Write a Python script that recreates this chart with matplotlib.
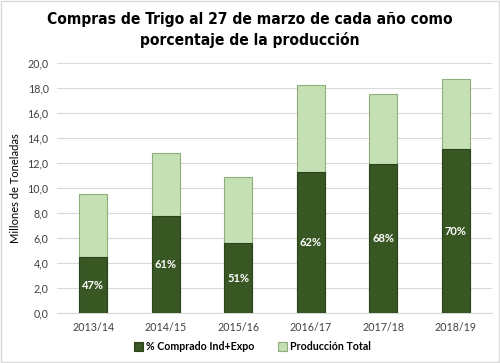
import matplotlib.pyplot as plt
from matplotlib.patches import Rectangle

# Data
campaigns = ["2013/14", "2014/15", "2015/16", "2016/17", "2017/18", "2018/19"]
produccion_total = [9.5, 12.8, 10.9, 18.2, 17.5, 18.7]
comprado = [4.5, 7.8, 5.6, 11.3, 11.9, 13.1]
pct_labels = ["47%", "61%", "51%", "62%", "68%", "70%"]

dark_green = "#385723"
light_green = "#c5e0b4"
light_edge = "#8fae7c"

fig = plt.figure(figsize=(5, 3.63), dpi=100)
ax = fig.add_axes([0.114, 0.137, 0.87, 0.69])

x = range(len(campaigns))
width = 0.39
ax.bar(x, produccion_total, width=width, color=light_green, edgecolor=light_edge,
       linewidth=0.8, label="Producción Total", zorder=2)
ax.bar(x, comprado, width=width, color=dark_green, edgecolor="#2b431b",
       linewidth=0.8, label="% Comprado Ind+Expo", zorder=3)

for i, (v, lab) in enumerate(zip(comprado, pct_labels)):
    ax.text(i, v / 2, lab, ha="center", va="center", color="white",
            fontsize=8, fontweight="bold", family="Lato", zorder=4)

ax.set_ylim(0, 20)
ax.set_xlim(-0.5, len(campaigns) - 0.5)
ax.set_yticks([i * 2 for i in range(11)])
ax.set_yticklabels([f"{i * 2:.1f}".replace(".", ",") for i in range(11)])
ax.set_xticks(list(x))
ax.set_xticklabels(campaigns)
ax.tick_params(length=0, labelsize=7.7, colors="#404040", pad=6)
for lbl in ax.get_xticklabels() + ax.get_yticklabels():
    lbl.set_family("Lato")
ax.yaxis.grid(True, color="#d9d9d9", linewidth=0.8, zorder=0)
ax.set_axisbelow(True)
for s in ["top", "right", "left"]:
    ax.spines[s].set_visible(False)
ax.spines["bottom"].set_color("#d9d9d9")

ax.set_ylabel("Millones de Toneladas", fontsize=8, family="Lato", color="black", labelpad=5)

fig.text(0.5, 0.968, "Compras de Trigo al 27 de marzo de cada año como\nporcentaje de la producción",
         ha="center", va="top", fontsize=11.2, fontweight="bold",
         family="DejaVu Sans", fontstretch="condensed", linespacing=1.45)

handles, labels = ax.get_legend_handles_labels()
leg = fig.legend(handles[::-1], labels[::-1], loc="center", bbox_to_anchor=(0.505, 0.045),
                 ncol=2, frameon=False, prop={"family": "Lato", "weight": "bold", "size": 7.7},
                 handlelength=0.8, handleheight=0.8, columnspacing=2.2, handletextpad=0.3)

# grey border around the figure
fig.patches.append(Rectangle((0.002, 0.003), 0.996, 0.994, transform=fig.transFigure,
                             fill=False, edgecolor="#d9d9d9", linewidth=1))

fig.savefig("out.png", dpi=100)
